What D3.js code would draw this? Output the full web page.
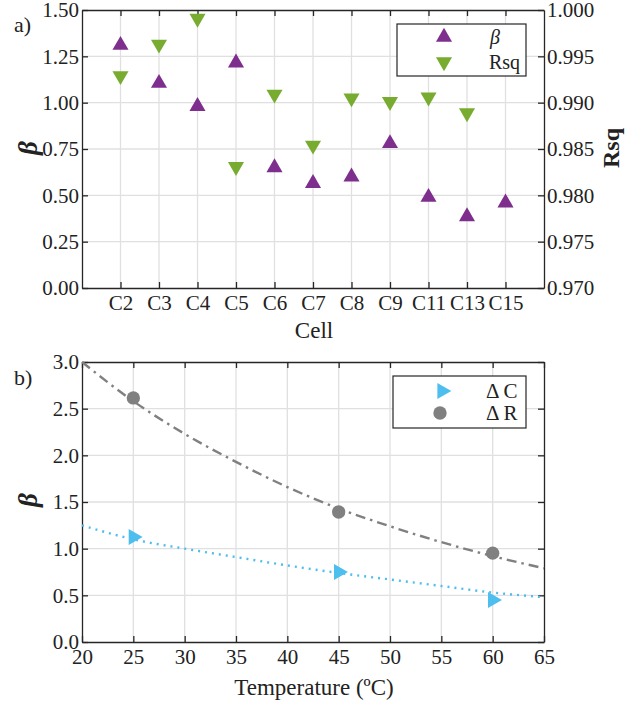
<!DOCTYPE html>
<html>
<head>
<meta charset="utf-8">
<script src="https://cdn.jsdelivr.net/npm/d3@7"></script>
<style>
  body { margin: 0; background: #fff; }
  svg text { font-family: "Liberation Serif", "Times New Roman", serif; fill: #222; }
</style>
</head>
<body>
<svg id="chart" width="637" height="704"></svg>
<script>
// panel a) data
const cells = ["C2", "C3", "C4", "C5", "C6", "C7", "C8", "C9", "C11", "C13", "C15"];
const betaVals = [1.31, 1.105, 0.98, 1.215, 0.65, 0.565, 0.60, 0.78, 0.49, 0.385, 0.46];
const rsqVals = [0.9929, 0.9963, 0.9991, 0.9831, 0.9909, 0.9854, 0.9905, 0.9901, 0.9906, 0.9889, null];
const betaTicks = [0, 0.25, 0.5, 0.75, 1.0, 1.25, 1.5];
const rsqTicks = [0.970, 0.975, 0.980, 0.985, 0.990, 0.995, 1.000];

// panel b) data
const temps = [25, 45, 60];
const dC = [1.125, 0.75, 0.45];
const dR = [2.615, 1.393, 0.952];
const fitTemps = [20, 25, 30, 35, 40, 45, 50, 55, 60, 65];
const fitC = [1.25, 1.10, 1.00, 0.91, 0.82, 0.74, 0.67, 0.60, 0.53, 0.48];
const fitR = [3.0, 2.58, 2.23, 1.93, 1.66, 1.43, 1.24, 1.07, 0.92, 0.79];
const tempTicks = [20, 25, 30, 35, 40, 45, 50, 55, 60, 65];
const betaTicksB = [0, 0.5, 1.0, 1.5, 2.0, 2.5, 3.0];

const purple = "#7e2f8e", green = "#77ac30", blue = "#4dbeee", gray = "#808080";
const axisCol = "#262626", gridCol = "#e0e0e0";
const fs = 21;

const svg = d3.select("#chart");

function styleAxis(g) {
  g.attr("font-family", null);
  g.select(".domain").attr("stroke", axisCol).attr("stroke-width", 1.3);
  g.selectAll(".tick line").attr("stroke", axisCol).attr("stroke-width", 1.3);
  g.selectAll(".tick text").attr("font-size", fs).attr("fill", "#222");
}

// ---------- panel a ----------
const A = { left: 82, right: 544, top: 10, bottom: 288 };
const xa = d3.scaleLinear().domain([0, 12]).range([A.left, A.right]);
const ya = d3.scaleLinear().domain([0, 1.5]).range([A.bottom, A.top]);
const ya2 = d3.scaleLinear().domain([0.970, 1.000]).range([A.bottom, A.top]);
const cellIdx = d3.range(1, cells.length + 1);

const ga = svg.append("g");
ga.append("g").selectAll("line.v").data(cellIdx).join("line")
  .attr("x1", d => xa(d)).attr("x2", d => xa(d))
  .attr("y1", A.top).attr("y2", A.bottom)
  .attr("stroke", gridCol).attr("stroke-width", 1.3);
ga.append("g").selectAll("line.h").data(betaTicks.slice(1, -1)).join("line")
  .attr("x1", A.left).attr("x2", A.right)
  .attr("y1", d => ya(d)).attr("y2", d => ya(d))
  .attr("stroke", gridCol).attr("stroke-width", 1.3);

ga.append("g").attr("transform", `translate(0,${A.bottom})`)
  .call(d3.axisBottom(xa).tickValues(cellIdx).tickFormat(i => cells[i - 1])
    .tickSizeInner(-6).tickSizeOuter(0).tickPadding(7))
  .call(styleAxis);
ga.append("g").attr("transform", `translate(0,${A.top})`)
  .call(d3.axisTop(xa).tickValues(cellIdx).tickFormat("").tickSizeInner(-6).tickSizeOuter(0))
  .call(styleAxis);
ga.append("g").attr("transform", `translate(${A.left},0)`)
  .call(d3.axisLeft(ya).tickValues(betaTicks).tickFormat(d3.format(".2f"))
    .tickSizeInner(-6).tickSizeOuter(0).tickPadding(3))
  .call(styleAxis);
ga.append("g").attr("transform", `translate(${A.right},0)`)
  .call(d3.axisRight(ya2).tickValues(rsqTicks).tickFormat(d3.format(".3f"))
    .tickSizeInner(-6).tickSizeOuter(0).tickPadding(3))
  .call(styleAxis);

const triUp = d3.symbol().type(d3.symbolTriangle).size(112);
ga.append("g").selectAll("path").data(betaVals).join("path")
  .attr("d", triUp)
  .attr("transform", (d, i) => `translate(${xa(i + 1)},${ya(d)})`)
  .attr("fill", purple);
ga.append("g").selectAll("path").data(rsqVals.map((v, i) => [i, v]).filter(d => d[1] != null)).join("path")
  .attr("d", triUp)
  .attr("transform", d => `translate(${xa(d[0] + 1)},${ya2(d[1])}) rotate(180)`)
  .attr("fill", green);

// legend a
const la = ga.append("g");
la.append("rect").attr("x", 397).attr("y", 24).attr("width", 129).attr("height", 52)
  .attr("fill", "#fff").attr("stroke", axisCol).attr("stroke-width", 1.2);
la.append("path").attr("d", triUp).attr("transform", "translate(444,37)").attr("fill", purple);
la.append("path").attr("d", triUp).attr("transform", "translate(444,62) rotate(180)").attr("fill", green);
la.append("text").attr("x", 490).attr("y", 44)
  .attr("font-size", fs - 1).attr("font-style", "italic").text("β");
la.append("text").attr("x", 489).attr("y", 69)
  .attr("font-size", fs - 1).text("Rsq");

ga.append("text").attr("x", 14).attr("y", 32).attr("font-size", 22).text("a)");
ga.append("text").attr("x", 314).attr("y", 338).attr("text-anchor", "middle")
  .attr("font-size", 23).text("Cell");
ga.append("text").attr("transform", "translate(37,148) rotate(-90)").attr("text-anchor", "middle")
  .attr("font-size", 27).attr("font-weight", "bold").attr("font-style", "italic").text("β");
ga.append("text").attr("transform", "translate(619,148) rotate(-90)").attr("text-anchor", "middle")
  .attr("font-size", 24).attr("font-weight", "bold").text("Rsq");

// ---------- panel b ----------
const B = { left: 82, right: 544, top: 362, bottom: 642 };
const xb = d3.scaleLinear().domain([20, 65]).range([B.left, B.right]);
const yb = d3.scaleLinear().domain([0, 3]).range([B.bottom, B.top]);

const gb = svg.append("g");
gb.append("g").selectAll("line").data(tempTicks.slice(1, -1)).join("line")
  .attr("x1", d => xb(d)).attr("x2", d => xb(d))
  .attr("y1", B.top).attr("y2", B.bottom)
  .attr("stroke", gridCol).attr("stroke-width", 1.3);
gb.append("g").selectAll("line").data(betaTicksB.slice(1, -1)).join("line")
  .attr("x1", B.left).attr("x2", B.right)
  .attr("y1", d => yb(d)).attr("y2", d => yb(d))
  .attr("stroke", gridCol).attr("stroke-width", 1.3);

gb.append("g").attr("transform", `translate(0,${B.bottom})`)
  .call(d3.axisBottom(xb).tickValues(tempTicks).tickSizeInner(-6).tickSizeOuter(0).tickPadding(7))
  .call(styleAxis);
gb.append("g").attr("transform", `translate(0,${B.top})`)
  .call(d3.axisTop(xb).tickValues(tempTicks).tickFormat("").tickSizeInner(-6).tickSizeOuter(0))
  .call(styleAxis);
gb.append("g").attr("transform", `translate(${B.left},0)`)
  .call(d3.axisLeft(yb).tickValues(betaTicksB).tickFormat(d3.format(".1f"))
    .tickSizeInner(-6).tickSizeOuter(0).tickPadding(3))
  .call(styleAxis);
gb.append("g").attr("transform", `translate(${B.right},0)`)
  .call(d3.axisRight(yb).tickValues(betaTicksB).tickFormat("").tickSizeInner(-6).tickSizeOuter(0))
  .call(styleAxis);

const line = d3.line().curve(d3.curveMonotoneX).x(d => xb(d[0])).y(d => yb(d[1]));
gb.append("path").datum(fitTemps.map((t, i) => [t, fitR[i]]))
  .attr("d", line).attr("fill", "none").attr("stroke", gray)
  .attr("stroke-width", 2.4).attr("stroke-dasharray", "10,5,2.5,5");
gb.append("path").datum(fitTemps.map((t, i) => [t, fitC[i]]))
  .attr("d", line).attr("fill", "none").attr("stroke", blue)
  .attr("stroke-width", 2.4).attr("stroke-dasharray", "2,5");

const triR = d3.symbol().type(d3.symbolTriangle).size(112);
const circ = d3.symbol().type(d3.symbolCircle).size(140);
gb.append("g").selectAll("path").data(dC).join("path")
  .attr("d", triR)
  .attr("transform", (d, i) => `translate(${xb(temps[i])},${yb(d)}) rotate(90)`)
  .attr("fill", blue);
gb.append("g").selectAll("path").data(dR).join("path")
  .attr("d", circ)
  .attr("transform", (d, i) => `translate(${xb(temps[i])},${yb(d)})`)
  .attr("fill", gray);

// legend b
const lb = gb.append("g");
lb.append("rect").attr("x", 393).attr("y", 376).attr("width", 133).attr("height", 52)
  .attr("fill", "#fff").attr("stroke", axisCol).attr("stroke-width", 1.2);
lb.append("path").attr("d", triR).attr("transform", "translate(442,391) rotate(90)").attr("fill", blue);
lb.append("path").attr("d", circ).attr("transform", "translate(440,413)").attr("fill", gray);
lb.append("text").attr("x", 486).attr("y", 398)
  .attr("font-size", fs).text("Δ C");
lb.append("text").attr("x", 486).attr("y", 420)
  .attr("font-size", fs).text("Δ R");

gb.append("text").attr("x", 14).attr("y", 385).attr("font-size", 22).text("b)");
gb.append("text").attr("x", 314).attr("y", 695).attr("text-anchor", "middle")
  .attr("font-size", 23).text("Temperature (ºC)");
gb.append("text").attr("transform", "translate(37,500) rotate(-90)").attr("text-anchor", "middle")
  .attr("font-size", 27).attr("font-weight", "bold").attr("font-style", "italic").text("β");
</script>
</body>
</html>
